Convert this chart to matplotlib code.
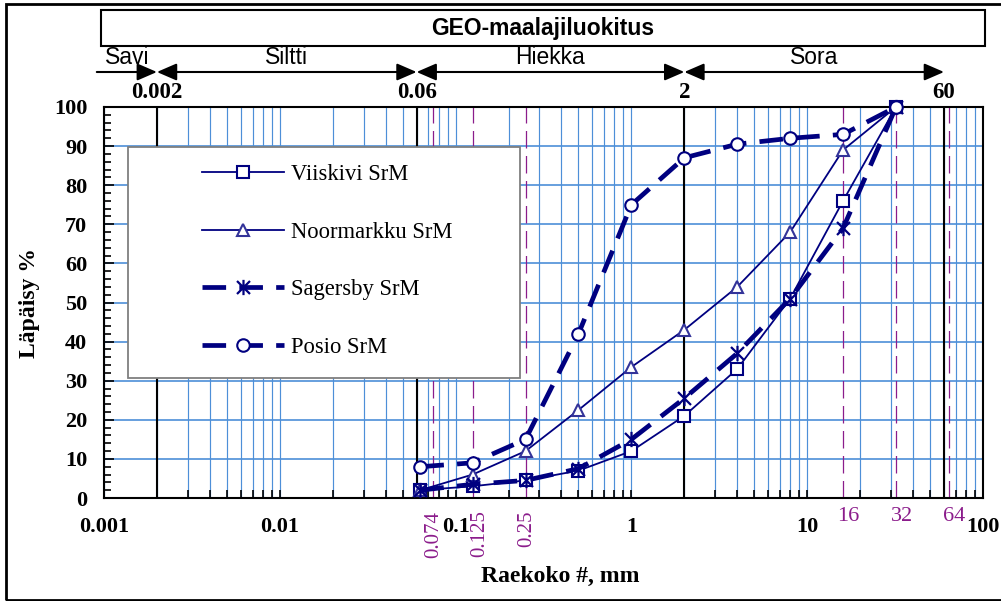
import numpy as np
import matplotlib
matplotlib.use('Agg')
import matplotlib.pyplot as plt
import matplotlib.ticker as ticker
import matplotlib.transforms as mtransforms
from matplotlib.patches import Rectangle
from matplotlib.path import Path

plt.rcParams['font.family'] = 'Liberation Serif'

# sieve sizes (mm) and passing percentages
sieves = [0.063, 0.125, 0.25, 0.5, 1, 2, 4, 8, 16, 32]
viiskivi = [2, 3, 4.5, 7, 12, 21, 33, 51, 76, 100]
noormarkku = [2, 6, 12, 22.5, 33.5, 43, 54, 68, 89, 100]
sagersby = [2, 3.5, 4.5, 7.5, 15, 25.5, 37, 51, 69, 100]
posio = [8, 9, 15, 42, 75, 87, 90.5, 92, 93, 100]

# GEO soil classes
class_bounds = [0.002, 0.06, 2, 60]
class_names = ['Savi', 'Siltti', 'Hiekka', 'Sora']
bound_labels = ['0.002', '0.06', '2', '60']
savi_start = 0.00091

# reference sieve lines
ref_small = [0.074, 0.125, 0.25]
ref_small_labels = ['0.074', '0.125', '0.25']
ref_big = [16, 32, 64]
ref_big_labels = ['16', '32', '64']

navy = '#000080'
gridblue = '#4d8fd8'
purple = '#8b1c8b'
sans = 'Liberation Sans'

W, H = 1001, 601
fig = plt.figure(figsize=(W / 100, H / 100), dpi=100)
ax = fig.add_axes([104 / W, 1 - 498 / H, 879 / W, 391 / H])

ax.set_xscale('log')
ax.set_xlim(0.001, 100)
ax.set_ylim(0, 100)

# grid
ax.xaxis.set_major_locator(ticker.LogLocator(base=10, numticks=10))
ax.xaxis.set_minor_locator(ticker.LogLocator(base=10, subs=np.arange(2, 10), numticks=20))
ax.xaxis.set_major_formatter(ticker.FuncFormatter(lambda v, p: f'{v:g}'))
ax.xaxis.set_minor_formatter(ticker.NullFormatter())
ax.yaxis.set_major_locator(ticker.MultipleLocator(10))
ax.yaxis.set_minor_locator(ticker.MultipleLocator(2))
ax.grid(True, which='both', axis='x', color=gridblue, lw=0.85)
ax.grid(True, which='major', axis='y', color=gridblue, lw=1.2)

ax.tick_params(which='both', direction='in', color='black', top=False, right=False)
ax.tick_params(axis='y', which='major', length=7, width=1.2, pad=12)
ax.tick_params(axis='y', which='minor', length=5, width=1.2)
ax.tick_params(axis='x', which='major', length=6, width=1.2, pad=14)
ax.tick_params(axis='x', which='minor', length=6, width=1.2)
for lab in ax.get_xticklabels() + ax.get_yticklabels():
    lab.set_fontweight('bold')
    lab.set_fontsize(16)
for sp in ax.spines.values():
    sp.set_linewidth(1.5)

# class boundaries
for b in class_bounds:
    ax.axvline(b, color='black', lw=1.5, zorder=1.6)

# reference sieve lines
for v in ref_small + ref_big:
    ax.axvline(v, color=purple, lw=0.9, dashes=(14, 6), zorder=1.6)
for v, t in zip(ref_small, ref_small_labels):
    dx = 5 if t == '0.125' else 1
    ax.annotate(t, xy=(v, 0), xycoords=('data', 'axes fraction'), xytext=(dx, -9),
                textcoords='offset points', rotation=90, ha='center', va='top',
                color=purple, fontsize=15)
for v, t in zip(ref_big, ref_big_labels):
    ax.annotate(t, xy=(v, 0), xycoords=('data', 'axes fraction'), xytext=(4, -13),
                textcoords='offset points', ha='center', va='center',
                color=purple, fontsize=16)

# data
star = Path([(0, -1), (0, 1), (-0.85, -0.85), (0.85, 0.85), (-0.85, 0.85), (0.85, -0.85)],
            [Path.MOVETO, Path.LINETO, Path.MOVETO, Path.LINETO, Path.MOVETO, Path.LINETO])
ax.plot(sieves, viiskivi, color=navy, lw=1.3, marker='s', ms=9, mfc='white', mec=navy,
        mew=1.5, label='Viiskivi SrM', zorder=4, clip_on=False)
ax.plot(sieves, noormarkku, color=navy, lw=1.3, marker='^', ms=9, mfc='white', mec='#333399',
        mew=1.5, label='Noormarkku SrM', zorder=4, clip_on=False)
ax.plot(sieves, sagersby, color=navy, lw=3.4, ls=(0, (5, 2.8)), marker=star, ms=11,
        mfc='none', mec=navy, mew=1.6, label='Sagersby SrM', zorder=4, clip_on=False)
ax.plot(sieves, posio, color=navy, lw=3.4, ls=(0, (5, 2.8)), marker='o', ms=9, mfc='white',
        mec=navy, mew=1.5, label='Posio SrM', zorder=4, clip_on=False)

ax.set_xlabel('Raekoko #, mm', fontsize=17, fontweight='bold')
ax.set_ylabel('Läpäisy %', fontsize=17, fontweight='bold')
ax.xaxis.set_label_coords((560 - 104) / 879, (498 - 566) / 391)
ax.yaxis.set_label_coords((40 - 104) / 879, 0.5)

# legend with separate frame
frame = Rectangle((128 / W, 1 - 378 / H), 392 / W, 231 / H, transform=fig.transFigure,
                  facecolor='white', edgecolor='#7f7f7f', lw=1.3, zorder=3.5, clip_on=False)
ax.add_patch(frame)
leg = ax.legend(loc='upper left', bbox_to_anchor=(202 / W, 1 - 164 / H), bbox_transform=fig.transFigure,
                frameon=False, borderpad=0, borderaxespad=0, fontsize=16.3, handlelength=3.6,
                handletextpad=0.32, labelspacing=1.62, numpoints=1)
leg.set_zorder(6)

# header: GEO classification
tb = mtransforms.blended_transform_factory(ax.transData, fig.transFigure)
header = Rectangle((101 / W, 1 - 46 / H), 884 / W, 36 / H, transform=fig.transFigure,
                   facecolor='white', edgecolor='black', lw=1.5, clip_on=False)
fig.patches.append(header)
fig.text((101 + 884 / 2) / W, 1 - 28 / H, 'GEO-maalajiluokitus', ha='center', va='center',
         fontsize=16.5, fontweight='bold', family=sans)

edges = [savi_start] + class_bounds
ay = 1 - 72 / H
for i, name in enumerate(class_names):
    x0, x1 = edges[i], edges[i + 1]
    style = '-|>' if i == 0 else '<|-|>'
    ax.annotate('', xy=(x1, ay), xytext=(x0, ay), xycoords=tb, textcoords=tb,
                annotation_clip=False,
                arrowprops=dict(arrowstyle=style + ',head_length=0.6,head_width=0.26',
                                color='black', lw=1.5, shrinkA=0, shrinkB=0, mutation_scale=20))
    xm = np.sqrt(x0 * x1)
    ax.text(xm, 1 - 64 / H, name, transform=tb, ha='center', va='baseline', fontsize=16.5,
            family=sans)
for b, t in zip(class_bounds, bound_labels):
    ax.text(b, 1 - 92 / H, t, transform=tb, ha='center', va='center', fontsize=16.5,
            fontweight='bold')

# outer frame
outer = Rectangle((6 / W, 1 - 600 / H), 1.2, 596 / H, transform=fig.transFigure,
                  facecolor='none', edgecolor='black', lw=2, clip_on=False)
fig.patches.append(outer)

fig.savefig('out.png', dpi=100)
